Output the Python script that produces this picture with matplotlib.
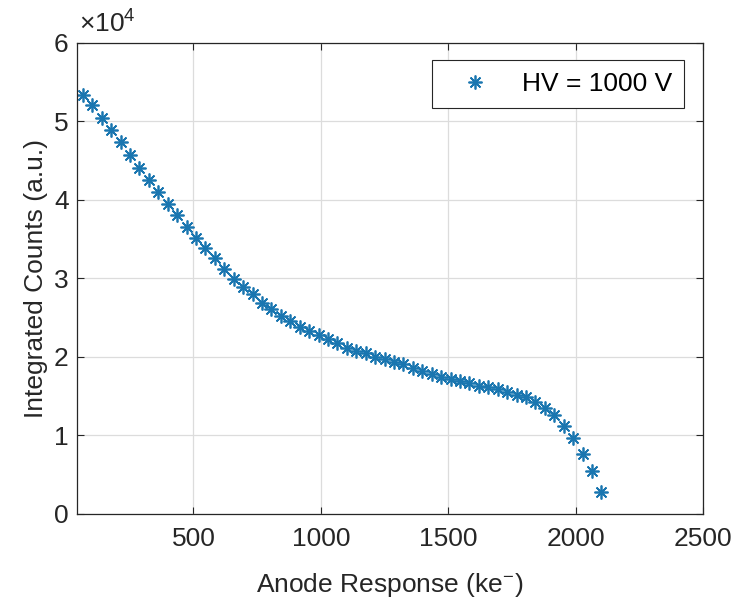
import matplotlib
matplotlib.use("Agg")
import matplotlib.pyplot as plt

# 数据
anode_response = [66 + 37 * i for i in range(56)]  # ke-, 等间距
integrated_counts = [
    5.33, 5.20, 5.04, 4.88, 4.73, 4.57, 4.40, 4.25, 4.09, 3.94,
    3.80, 3.65, 3.51, 3.38, 3.25, 3.12, 2.99, 2.88, 2.79, 2.685,
    2.60, 2.52, 2.45, 2.38, 2.32, 2.27, 2.22, 2.17, 2.11, 2.07,
    2.04, 2.00, 1.97, 1.93, 1.90, 1.86, 1.81, 1.78, 1.74, 1.71,
    1.69, 1.66, 1.63, 1.61, 1.58, 1.55, 1.51, 1.48, 1.42, 1.35,
    1.25, 1.12, 0.96, 0.76, 0.54, 0.28,
]
integrated_counts = [v * 1e4 for v in integrated_counts]
x_ticks = [500, 1000, 1500, 2000, 2500]
y_ticks = [0, 1e4, 2e4, 3e4, 4e4, 5e4, 6e4]

plt.rcParams['font.family'] = ['Liberation Sans', 'DejaVu Sans']
plt.rcParams['mathtext.fontset'] = 'custom'
plt.rcParams['mathtext.rm'] = 'Liberation Sans'
plt.rcParams['mathtext.it'] = 'Liberation Sans'
fs = 19
dark = "#262626"

fig = plt.figure(figsize=(7.46, 6.03), dpi=100)
ax = fig.add_axes([0.1032, 0.1484, 0.8392, 0.7811])

# MATLAB 风格的 * 号（8 条辐）
ax.plot(anode_response, integrated_counts, linestyle="none", marker=(8, 2, 0),
        color="#1a76b0", markersize=10, markeredgewidth=1.25, label="HV = 1000 V")

ax.set_xlim(43, 2500)
ax.set_ylim(0, 6e4)
ax.set_xticks(x_ticks)
ax.set_yticks(y_ticks)
ax.set_yticklabels([str(int(v / 1e4)) for v in y_ticks])
ax.text(0.003, 1.01, r"$\times10^{4}$", transform=ax.transAxes, fontsize=fs,
        color=dark, ha="left", va="bottom")

ax.grid(True, color="#dcdcdc", linewidth=0.9)
ax.set_axisbelow(True)
ax.tick_params(direction="in", length=5, width=0.8, top=True, right=True,
               labelsize=fs, colors=dark)
ax.tick_params(axis="x", pad=10)
ax.tick_params(axis="y", pad=6)
for s in ax.spines.values():
    s.set_color(dark)
    s.set_linewidth(0.9)

ax.set_xlabel("Anode Response (ke$^{-}$)", fontsize=fs, color=dark, labelpad=14)
ax.set_ylabel("Integrated Counts (a.u.)", fontsize=fs, color=dark, labelpad=4)

leg = ax.legend(loc="upper right", fontsize=fs, fancybox=False, framealpha=1,
                edgecolor=dark, borderpad=0.45, handlelength=2.35, handletextpad=0.62,
                borderaxespad=0, bbox_to_anchor=(0.97, 0.962))
leg.get_frame().set_linewidth(0.8)

plt.savefig("out.png", dpi=100)
